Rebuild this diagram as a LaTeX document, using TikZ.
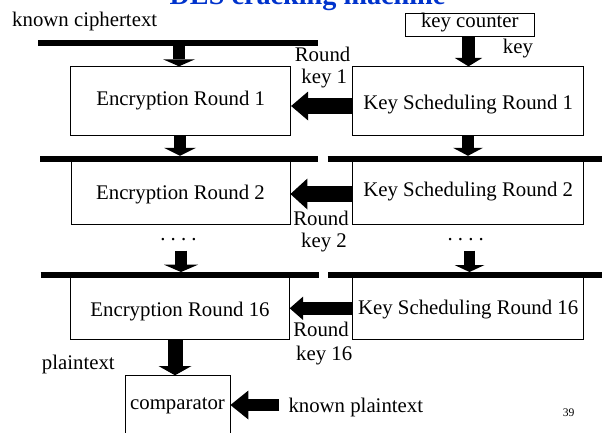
\documentclass[tikz,border=0pt]{standalone}
\usepackage{fontspec}
\setmainfont{Liberation Serif}
\usetikzlibrary{arrows.meta}
\definecolor{ttl}{RGB}{0,51,204}
\tikzset{
  every node/.style={font=\fontsize{20.8}{24}\selectfont},
  box/.style={draw, line width=0.8pt, inner sep=0pt, text depth=4.5pt},
  lbl/.style={inner sep=0pt, anchor=base},
  bar/.style={line width=5.7pt},
  blk/.style n args={3}{line width=#1, -{Triangle[width=#2, length=#3, line width=0pt]}},
}
\begin{document}
\begin{tikzpicture}[x=1pt,y=-1pt]
\useasboundingbox (0,0) rectangle (602,432);
\clip (0,0) rectangle (602,432);

% title (cut off at the top)
\node[lbl, text=ttl, font=\bfseries\fontsize{28.2}{32}\selectfont] (title) at (307.5,4.3) {DES cracking machine};

% boxes
\node[box, minimum width=220pt, minimum height=68.6pt, text height=12.5pt] (enc1) at (180.7,101) {Encryption Round 1};
\node[box, minimum width=231pt, minimum height=68.3pt, text height=22.5pt] (ks1) at (468.2,100.9) {Key Scheduling Round 1};
\node[box, minimum width=219pt, minimum height=64.7pt, text height=17.9pt] (enc2) at (180.5,192.3) {Encryption Round 2};
\node[box, minimum width=231pt, minimum height=64.7pt, text height=13.3pt] (ks2) at (468.2,192.3) {Key Scheduling Round 2};
\node[box, minimum width=218.6pt, minimum height=62.7pt, text height=19.9pt] (enc16) at (180,308.3) {Encryption Round 16};
\node[box, minimum width=231pt, minimum height=62.7pt, text height=17.3pt] (ks16) at (468.2,308.3) {Key Scheduling Round 16};
\node[box, minimum width=105pt, minimum height=70pt, text height=2.5pt] (comp) at (177.5,410.7) {comparator};
\node[box, minimum width=129pt, minimum height=23.4pt, text height=9.1pt] (kc) at (469.8,25) {key counter};

% bars
\coordinate (b1w) at (38,43);    \coordinate (b1e) at (318,43);
\coordinate (b2w) at (40,158.7); \coordinate (b2m) at (317.7,158.7);
\coordinate (b2n) at (327.7,158.7); \coordinate (b2e) at (602,158.7);
\coordinate (b3w) at (40.7,274.8); \coordinate (b3m) at (319,274.8);
\coordinate (b3n) at (328,274.8); \coordinate (b3e) at (602,274.8);
\draw[bar] (b1w) -- (b1e);
\draw[bar] (b2w) -- (b2m);
\draw[bar] (b2n) -- (b2e);
\draw[bar] (b3w) -- (b3m);
\draw[bar] (b3n) -- (b3e);

% dots
\node[lbl] (dl) at (178.5,240) {.\ .\ .\ .};
\node[lbl] (dr) at (465.7,240) {.\ .\ .\ .};

% arrow end points on the bars
\coordinate (a1) at (179,45.8);
\coordinate (a2) at (180,155.8);
\coordinate (a3s) at (181,250.7);
\coordinate (a3) at (181,272);
\coordinate (a5) at (468.5,0);
\coordinate (a6) at (468,155.8);
\coordinate (a7s) at (469.5,250.7);
\coordinate (a7) at (469.5,272);
\coordinate (a4) at (175,0);

% vertical arrows
\draw[blk={12pt}{32pt}{7pt}] (a1) -- (a1 |- enc1.north);
\draw[blk={12pt}{32pt}{8pt}] (a2 |- enc1.south) -- (a2);
\draw[blk={12pt}{34pt}{7.3pt}] (a3s) -- (a3);
\draw[blk={15pt}{33pt}{9.3pt}] (a4 |- enc16.south) -- (a4 |- comp.north);
\draw[blk={13pt}{27.4pt}{8.4pt}] (a5 |- kc.south) -- (a5 |- ks1.north);
\draw[blk={12.3pt}{30pt}{8pt}] (a6 |- ks1.south) -- (a6);
\draw[blk={11.3pt}{30pt}{7pt}] (a7s) -- (a7);

% horizontal arrows
\coordinate (h1) at (0,106);
\coordinate (h2) at (0,194);
\coordinate (h3) at (0,308.3);
\coordinate (kps) at (279.3,405);
\draw[blk={16.7pt}{29pt}{17pt}] (ks1.west |- h1) -- (enc1.east |- h1);
\draw[blk={16.6pt}{31pt}{17pt}] (ks2.west |- h2) -- (enc2.east |- h2);
\draw[blk={13.3pt}{23.3pt}{13.3pt}] (ks16.west |- h3) -- (enc16.east |- h3);
\draw[blk={12.7pt}{29pt}{18pt}] (kps) -- (comp.east |- kps);

% labels
\node[lbl, anchor=base west] (kct) at (12,26) {known ciphertext};
\node[lbl, anchor=base west] (keyl) at (502.7,53.3) {key};
\node[lbl] (r1a) at (322.6,61.7) {Round};
\node[lbl] (r1b) at (324.3,83.3) {key 1};
\node[lbl] (r2a) at (321,225.7) {Round};
\node[lbl] (r2b) at (324,247.3) {key 2};
\node[lbl] (r3a) at (321,336.7) {Round};
\node[lbl] (r3b) at (324.2,360) {key 16};
\node[lbl, anchor=base west] (pt) at (41.7,369.7) {plaintext};
\node[lbl, anchor=base west] (kpt) at (288.3,412) {known plaintext};
\node[lbl, anchor=base west, font=\fontsize{11.6}{13}\selectfont] (pg) at (562.7,416.3) {39};
\end{tikzpicture}
\end{document}
